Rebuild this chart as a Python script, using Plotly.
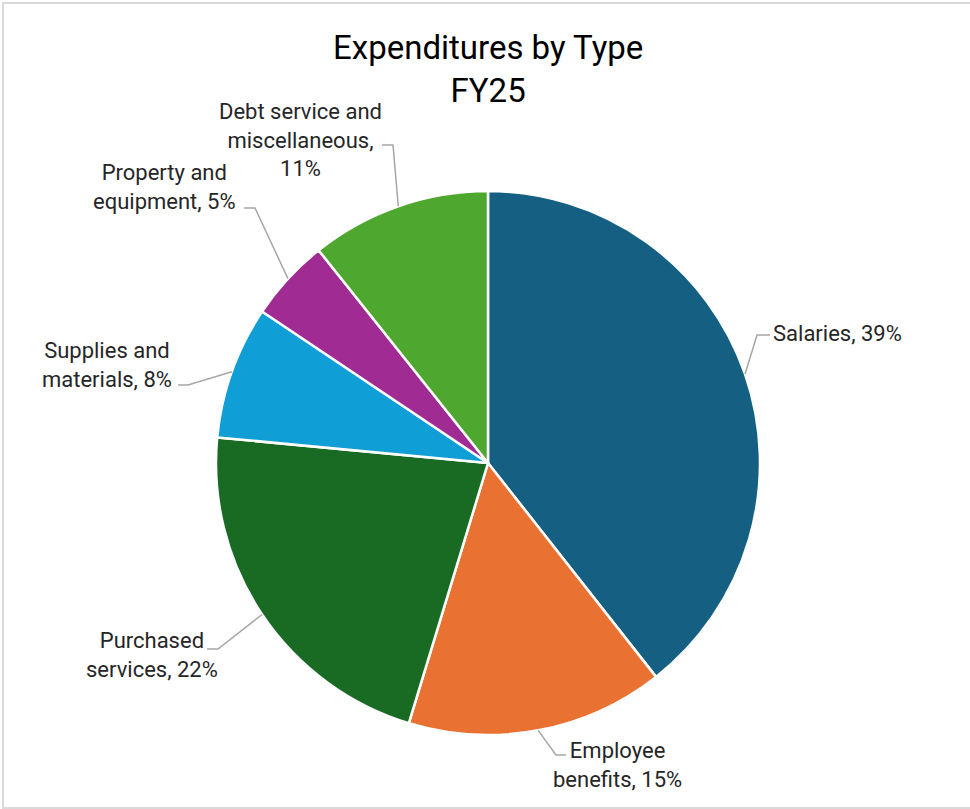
import math
import plotly.graph_objects as go

# ---- data ----
categories = ["Salaries", "Employee benefits", "Purchased services",
              "Supplies and materials", "Property and equipment",
              "Debt service and miscellaneous"]
shares = [39.4, 15.3, 21.8, 7.9, 4.9, 10.7]
# how each category name wraps in its label (last piece gets ", NN%")
name_lines = [
    ["Salaries"],
    ["Employee", "benefits"],
    ["Purchased", "services"],
    ["Supplies and", "materials"],
    ["Property and", "equipment"],
    ["Debt service and", "miscellaneous,", ""],
]
colors = ["#156082", "#E97132", "#196B24", "#0F9ED5", "#A02B93", "#4EA72E"]

# ---- layout constants (pixels) ----
W, H = 970, 809
CX, CY, R = 488, 463, 272
FONT = "Roboto"
# label box centre, leader elbow, leader end (pixel positions, styling only)
label_pos = [
    ((837, 333), (757, 335), (770, 335)),
    ((617, 765), (556, 755), (566, 755)),
    ((152, 655), (218, 649), (207, 649)),
    ((107, 365), (188, 385), (178, 385)),
    ((164, 187), (255, 208), (244, 208)),
    ((300, 140), (393, 145), (382, 145)),
]


def px(x):
    return x / W


def py(y):
    return 1 - y / H


fig = go.Figure(go.Pie(
    labels=categories,
    values=shares,
    sort=False,
    direction="clockwise",
    rotation=0,
    textinfo="none",
    hoverinfo="label+percent",
    marker=dict(colors=colors, line=dict(color="white", width=2.5)),
    domain=dict(x=[px(CX - R), px(CX + R)], y=[py(CY + R), py(CY - R)]),
    showlegend=False,
))

total = sum(shares)
cum = 0
annotations = []
shapes = []
for val, lines, (center, elbow, end) in zip(shares, name_lines, label_pos):
    pct = f"{round(val / total * 100)}%"
    if lines[-1] == "":
        text_lines = lines[:-1] + [pct]
    else:
        text_lines = lines[:-1] + [f"{lines[-1]}, {pct}"]
    mid = (cum + val / 2) / total * 2 * math.pi
    cum += val
    sx = CX + R * math.sin(mid)
    sy = CY - R * math.cos(mid)
    path = f"M {px(sx)},{py(sy)} L {px(elbow[0])},{py(elbow[1])} L {px(end[0])},{py(end[1])}"
    shapes.append(dict(type="path", xref="paper", yref="paper", path=path,
                       line=dict(color="#A6A6A6", width=1.5)))
    annotations.append(dict(
        x=px(center[0]), y=py(center[1]), xref="paper", yref="paper",
        text="<br>".join(text_lines), showarrow=False, align="center",
        xanchor="center", yanchor="middle",
        font=dict(family=FONT, size=22, color="#262626"),
    ))

annotations.append(dict(
    x=px(CX), y=py(69), xref="paper", yref="paper",
    text="Expenditures by Type<br>FY25", showarrow=False, align="center",
    xanchor="center", yanchor="middle",
    font=dict(family=FONT, size=33, color="#000000"),
))

shapes.append(dict(type="rect", xref="paper", yref="paper",
                   x0=px(3), x1=px(975), y0=py(808), y1=py(3),
                   line=dict(color="#D9D9D9", width=2)))

fig.update_layout(
    width=W, height=H,
    margin=dict(l=0, r=0, t=0, b=0),
    paper_bgcolor="white",
    plot_bgcolor="white",
    annotations=annotations,
    shapes=shapes,
)

fig.write_html("out.html")
